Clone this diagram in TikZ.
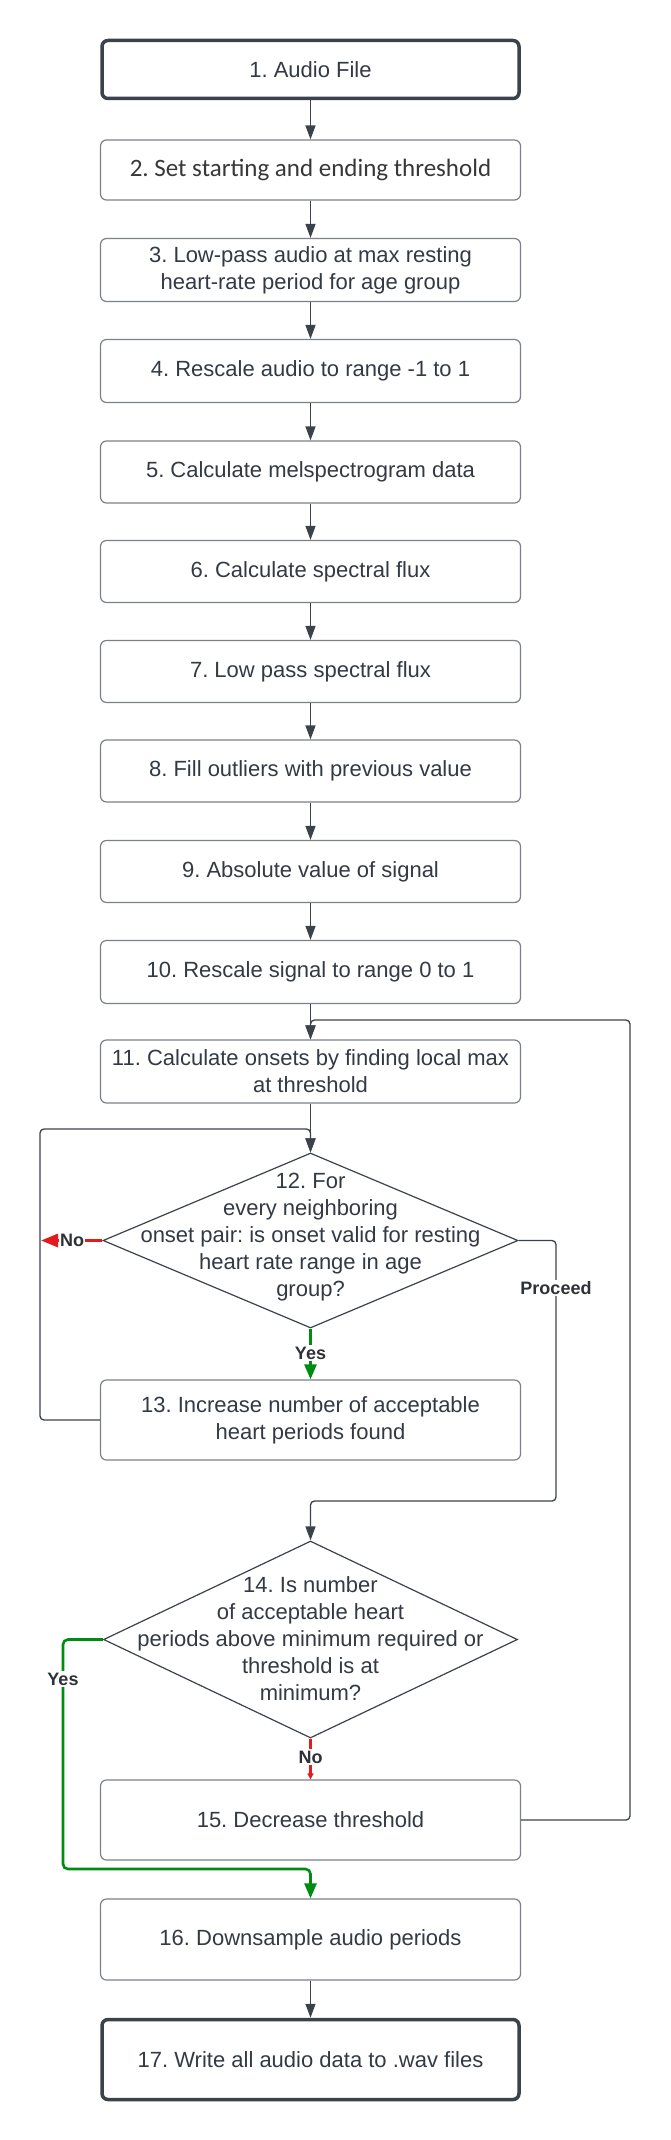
\documentclass[tikz,border=0pt]{standalone}
\usepackage{fontspec}
\setmainfont{Liberation Sans}
\newfontfamily\calibfont{Carlito}
\usetikzlibrary{arrows.meta,shapes.geometric}
\definecolor{txt}{HTML}{333A44}
\definecolor{lnc}{HTML}{3C424A}
\definecolor{bdc}{HTML}{7C8188}
\definecolor{grn}{HTML}{008C10}
\definecolor{rdc}{HTML}{E41B1B}
\definecolor{lblc}{HTML}{2E3236}
\frenchspacing
\begin{document}
\begin{tikzpicture}[x=1pt,y=-1pt,
 box/.style={draw=bdc, line width=1.2pt, rounded corners=6pt, minimum width=420pt, fill=white, text=txt, align=center, font=\frenchspacing\fontsize{22}{27}\selectfont, inner sep=0pt},
 thickbox/.style={box, draw=lnc, line width=3.5pt, minimum width=417pt},
 conn/.style={draw=lnc, line width=1.3pt, -{Triangle[length=14pt,width=10pt]}, rounded corners=4pt},
 gconn/.style={draw=grn, line width=2.6pt, -{Triangle[length=15pt,width=12pt]}, rounded corners=5pt},
 rconn/.style={draw=rdc, line width=3pt, -{Triangle[length=17pt,width=13pt]}},
 rsmall/.style={draw=rdc, line width=2.5pt, -{Triangle[length=6pt,width=6pt]}},
 lbl/.style={font=\bfseries\fontsize{18}{21}\selectfont, text=lblc, fill=white, inner sep=1.5pt},
 dia/.style={draw=lnc, line width=1.2pt, shape=diamond, inner sep=0pt, fill=white},
 diatext/.style={text=txt, align=center, font=\frenchspacing\fontsize{22}{27}\selectfont, inner sep=0pt}
]
\useasboundingbox (0,0) rectangle (671,2140);
\fill[white] (0,0) rectangle (671,2140);

\node[thickbox, minimum height=58pt] (b1) at (310.5,69.5) {1. Audio File};
\node[box, minimum height=60pt, text=black!78] (b2) at (310.5,170) {\calibfont\fontsize{25}{30}\selectfont 2. Set starting and ending threshold};
\node[box, minimum height=63pt] (b3) at (310.5,270) {3. Low-pass audio at max resting\\heart-rate period for age group};
\node[box, minimum height=63pt] (b4) at (310.5,371) {4. Rescale audio to range -1 to 1};
\node[box, minimum height=62pt] (b5) at (310.5,472) {5. Calculate melspectrogram data};
\node[box, minimum height=62pt] (b6) at (310.5,571.5) {6. Calculate spectral flux};
\node[box, minimum height=62pt] (b7) at (310.5,671.5) {7. Low pass spectral flux};
\node[box, minimum height=62pt] (b8) at (310.5,771) {8. Fill outliers with previous value};
\node[box, minimum height=62pt] (b9) at (310.5,871.5) {9. Absolute value of signal};
\node[box, minimum height=63pt] (b10) at (310.5,972) {10. Rescale signal to range 0 to 1};
\node[box, minimum height=63pt] (b11) at (310.5,1071.5) {11. Calculate onsets by finding local max\\at threshold};

\node[dia, minimum width=415pt, minimum height=175pt] (d12) at (310.5,1240.5) {};
\node[diatext] (t12) at (310.5,1237) {12. For\\every neighboring\\onset pair: is onset valid for resting\\heart rate range in age\\group?};

\node[box, minimum height=80pt] (b13) at (310.5,1420) {13. Increase number of acceptable\\heart periods found};

\node[dia, minimum width=414pt, minimum height=197pt] (d14) at (310.5,1639.5) {};
\node[diatext] (t14) at (310.5,1639) {14. Is number\\of acceptable heart\\periods above minimum required or\\threshold is at\\minimum?};

\node[box, minimum height=80pt] (b15) at (310.5,1820) {15. Decrease threshold};
\node[box, minimum height=81pt] (b16) at (310.5,1939.5) {16. Downsample audio periods};
\node[thickbox, minimum height=80pt] (b17) at (310.5,2059.5) {17. Write all audio data to .wav files};

% straight connectors
\foreach \a/\b in {b1/b2,b2/b3,b3/b4,b4/b5,b5/b6,b6/b7,b7/b8,b8/b9,b9/b10,b10/b11,b16/b17}
  \draw[conn] (\a.south) -- (\b.north);
\draw[conn] (b11.south) -- (d12.north);

% loop from 13 back to 12
\coordinate (lp) at (40,1129);
\draw[conn] (b13.west) -| (lp) -| (d12.north);

% No (12)
\coordinate (nox) at (41,1240.5);
\draw[rconn] (d12.west) -- (nox);
\node[lbl] (lno12) at (72,1240.5) {No};

% Yes (12)
\draw[gconn] (d12.south) -- (b13.north);
\node[lbl] (lyes12) at (310.5,1353) {Yes};

% Proceed
\coordinate (pr) at (556,1501);
\draw[conn] (d12.east) -| (pr) -| (d14.north);
\node[lbl] (lpr) at (556,1288) {Proceed};

% back loop from 15 to 11
\coordinate (rt) at (630,1020);
\draw[conn] (b15.east) -| (rt) -| (b11.north);

% Yes (14)
\coordinate (ys) at (63,1869);
\draw[gconn] (d14.west) -| (ys) -| (b16.north);
\node[lbl] (lyes14) at (63,1679) {Yes};

% No (14)
\draw[rsmall] (d14.south) -- (b15.north);
\node[lbl] (lno14) at (310.5,1757) {No};
\end{tikzpicture}
\end{document}
